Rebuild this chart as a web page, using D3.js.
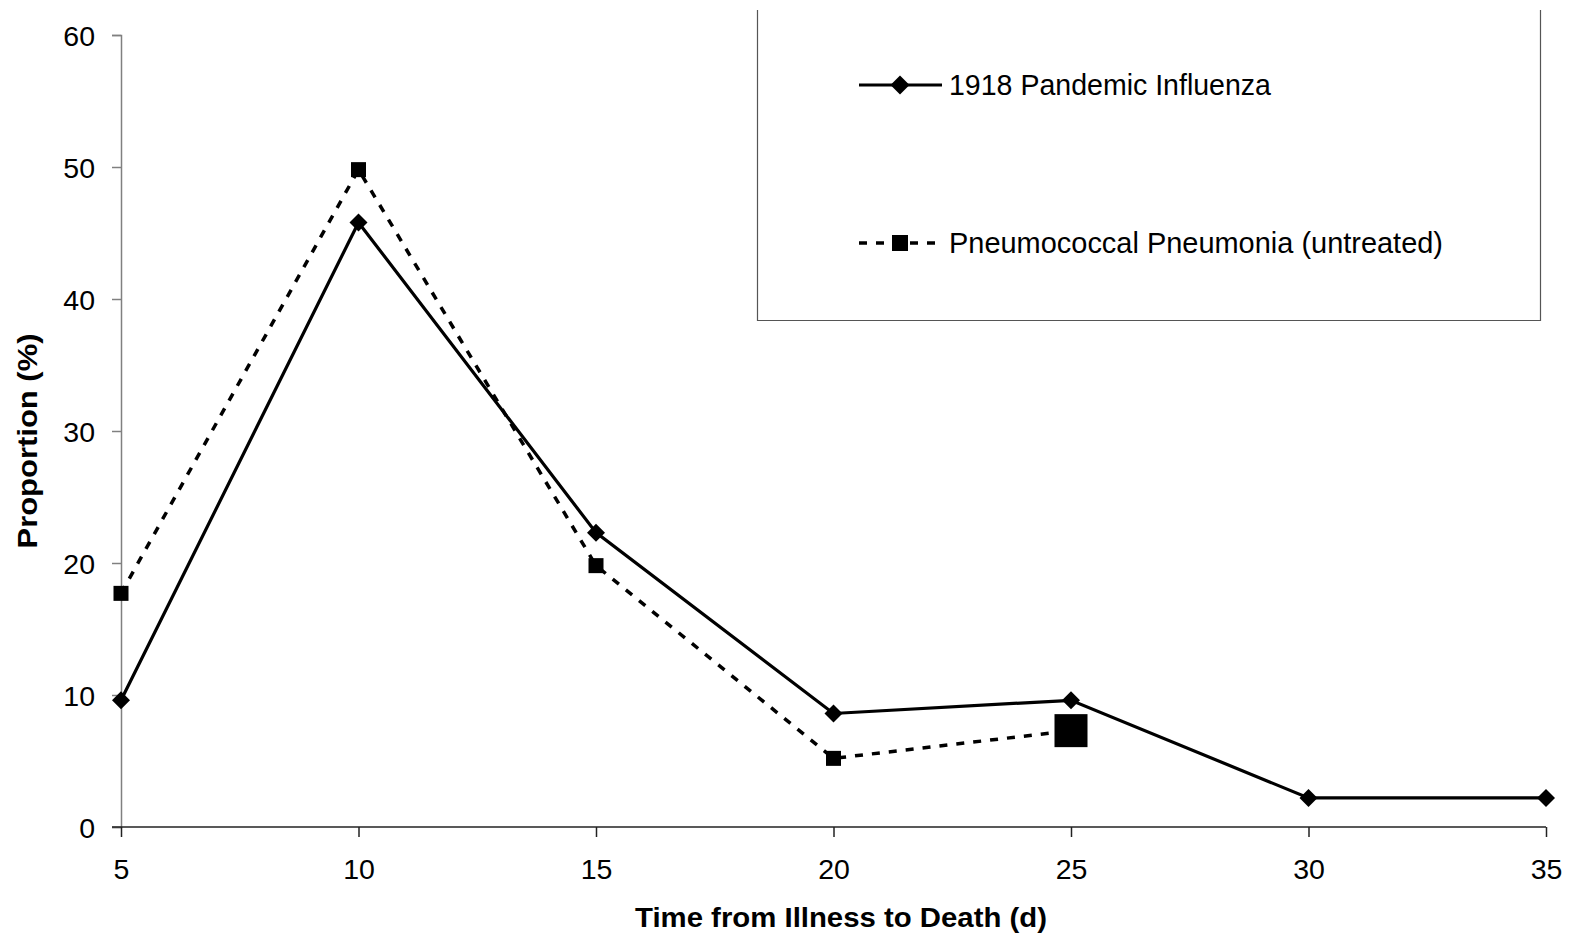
<!DOCTYPE html>
<html>
<head>
<meta charset="utf-8">
<script src="https://cdn.jsdelivr.net/npm/d3@7"></script>
<style>
  html, body { margin: 0; padding: 0; background: #fff; }
  svg { display: block; font-family: Arial, "Liberation Sans", sans-serif; }
</style>
</head>
<body>
<svg id="chart" width="1570" height="936"></svg>
<script>
const days = [5, 10, 15, 20, 25, 30, 35];
const influenza = [9.6, 45.8, 22.3, 8.6, 9.6, 2.2, 2.2];
const pneumoniaDays = [5, 10, 15, 20, 25];
const pneumonia = [17.7, 49.8, 19.8, 5.2, 7.3];
const xTicks = [5, 10, 15, 20, 25, 30, 35];
const yTicks = [0, 10, 20, 30, 40, 50, 60];
const seriesNames = ["1918 Pandemic Influenza", "Pneumococcal Pneumonia (untreated)"];
const xTitle = "Time from Illness to Death (d)";
const yTitle = "Proportion (%)";

const svg = d3.select("#chart");
const x = d3.scaleLinear().domain([5, 35]).range([121, 1546]);
const y = d3.scaleLinear().domain([0, 60]).range([827, 35]);

// Y axis
const yAxis = svg.append("g").attr("transform", "translate(121,0)")
  .call(d3.axisLeft(y).tickValues(yTicks).tickSize(9).tickPadding(17));
yAxis.attr("font-size", null).attr("font-family", null);
yAxis.select(".domain").attr("stroke", "#808080").attr("stroke-width", 1.5);
yAxis.selectAll(".tick line").attr("stroke", "#808080").attr("stroke-width", 1.5);
yAxis.selectAll(".tick text").style("font-size", "28.5px").attr("fill", "#000")
  .attr("dy", "0.36em");

// X axis
const xAxis = svg.append("g").attr("transform", "translate(0,827)")
  .call(d3.axisBottom(x).tickValues(xTicks).tickSize(10).tickPadding(22).tickSizeOuter(0));
xAxis.attr("font-size", null).attr("font-family", null);
xAxis.select(".domain").attr("stroke", "#222").attr("stroke-width", 1.5)
  .attr("d", "M112,0H1546");
xAxis.selectAll(".tick line").attr("stroke", "#222").attr("stroke-width", 1.5);
xAxis.selectAll(".tick text").style("font-size", "28.5px").attr("fill", "#000");

// Titles
svg.append("text").attr("x", 841).attr("y", 927).attr("text-anchor", "middle")
  .style("font-size", "27px").attr("font-weight", "bold")
  .attr("textLength", 412).attr("lengthAdjust", "spacingAndGlyphs").text(xTitle);
svg.append("text").attr("transform", "translate(37,441) rotate(-90)").attr("text-anchor", "middle")
  .style("font-size", "27px").attr("font-weight", "bold")
  .attr("textLength", 215).attr("lengthAdjust", "spacingAndGlyphs").text(yTitle);

// Lines
const line = d3.line().x(d => x(d[0])).y(d => y(d[1]));
const infData = days.map((d, i) => [d, influenza[i]]);
const pnData = pneumoniaDays.map((d, i) => [d, pneumonia[i]]);

svg.append("path").datum(pnData).attr("d", line).attr("fill", "none")
  .attr("stroke", "#000").attr("stroke-width", 3.5).attr("stroke-dasharray", "8,9");
svg.append("path").datum(infData).attr("d", line).attr("fill", "none")
  .attr("stroke", "#000").attr("stroke-width", 3.2);

const diamond = s => `M0,${-s}L${s},0L0,${s}L${-s},0Z`;
svg.selectAll(".inf").data(infData).enter().append("path")
  .attr("transform", d => `translate(${x(d[0])},${y(d[1])})`)
  .attr("d", diamond(9)).attr("fill", "#000");

svg.selectAll(".pn").data(pnData).enter().append("rect")
  .attr("x", (d, i) => x(d[0]) - (i === pnData.length - 1 ? 16.5 : 7.5))
  .attr("y", (d, i) => y(d[1]) - (i === pnData.length - 1 ? 16.5 : 7.5))
  .attr("width", (d, i) => i === pnData.length - 1 ? 33 : 15)
  .attr("height", (d, i) => i === pnData.length - 1 ? 33 : 15)
  .attr("fill", "#000");

// Legend box (three sides)
svg.append("path").attr("d", "M757.5,10V320.5H1540.5V10").attr("fill", "none")
  .attr("stroke", "#555").attr("stroke-width", 1.2);

// Legend entry 1
svg.append("line").attr("x1", 859).attr("x2", 942).attr("y1", 85).attr("y2", 85)
  .attr("stroke", "#000").attr("stroke-width", 3.2);
svg.append("path").attr("transform", "translate(900,85)").attr("d", diamond(9.5)).attr("fill", "#000");
svg.append("text").attr("x", 949).attr("y", 95).style("font-size", "29px")
  .attr("textLength", 322).attr("lengthAdjust", "spacingAndGlyphs").text(seriesNames[0]);

// Legend entry 2
svg.append("line").attr("x1", 859).attr("x2", 942).attr("y1", 243).attr("y2", 243)
  .attr("stroke", "#000").attr("stroke-width", 3.5).attr("stroke-dasharray", "8,9");
svg.append("rect").attr("x", 892).attr("y", 235).attr("width", 16).attr("height", 16).attr("fill", "#000");
svg.append("text").attr("x", 949).attr("y", 253).style("font-size", "29px")
  .attr("textLength", 494).attr("lengthAdjust", "spacingAndGlyphs").text(seriesNames[1]);
</script>
</body>
</html>
